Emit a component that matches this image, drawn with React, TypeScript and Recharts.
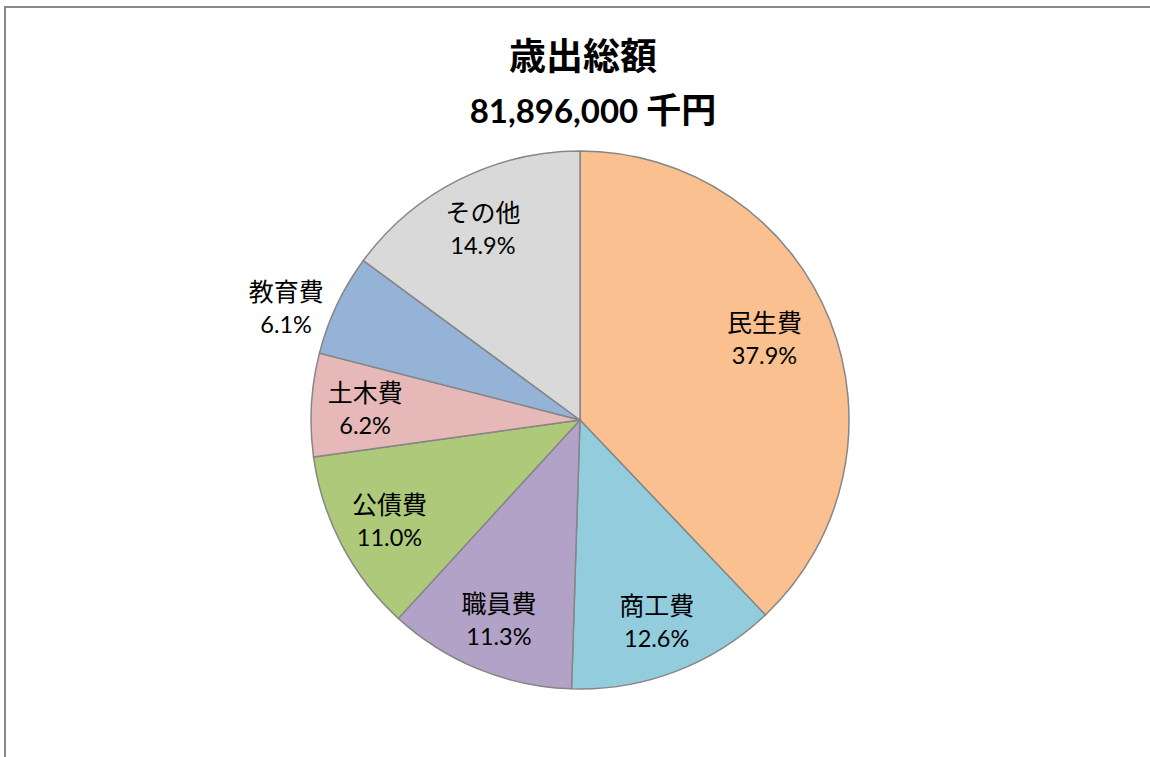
import { PieChart, Pie, Cell } from 'recharts';

// 歳出の内訳（％）
const categories = ['民生費', '商工費', '職員費', '公債費', '土木費', '教育費', 'その他'];
const shares = [37.9, 12.6, 11.3, 11.0, 6.2, 6.1, 14.9];
const titleLine1 = '歳出総額';
const totalAmount = '81,896,000';
const totalUnit = '千円';

const COLORS = ['#FAC090', '#93CDDD', '#B3A2C7', '#AFC97A', '#E6B9B8', '#95B3D7', '#D9D9D9'];

// label placement relative to outer radius (Excel "best fit" look)
const LABEL_POS: Record<string, { r: number; da: number }> = {
  '民生費': { r: 0.75, da: 2.1 },
  '教育費': { r: 1.17, da: 4.4 },
};

const JP_FONT = '"Noto Sans CJK JP", sans-serif';
const NUM_FONT = 'Lato, "Noto Sans", sans-serif';

const chartData = categories.map((name, i) => ({ name, value: shares[i] }));

const RAD = Math.PI / 180;

const renderLabel = (props: any) => {
  const { cx, cy, midAngle, outerRadius, name, value } = props;
  const pos = LABEL_POS[name] || { r: 0.8, da: 0 };
  const angle = midAngle + pos.da;
  const r = outerRadius * pos.r;
  const x = cx + r * Math.cos(-angle * RAD);
  const y = cy + r * Math.sin(-angle * RAD);
  return (
    <g>
      <text x={x} y={y - 17} textAnchor="middle" dominantBaseline="central"
        fontFamily={JP_FONT} fontSize={25} fill="#000">
        {name}
      </text>
      <text x={x} y={y + 17} textAnchor="middle" dominantBaseline="central"
        fontFamily={NUM_FONT} fontSize={23.5} fill="#000">
        {`${Number(value).toFixed(1)}%`}
      </text>
    </g>
  );
};

export default function App() {
  return (
    <div style={{ position: 'absolute', left: 0, top: 0, width: 1150, height: 757, overflow: 'hidden', background: '#fff' }}>
      <div style={{ position: 'absolute', left: 4, top: 6, width: 1170, height: 780, border: '2px solid #898989' }} />
      <div style={{ position: 'absolute', left: 0, top: 30, width: 1166, textAlign: 'center', fontFamily: JP_FONT, fontWeight: 'bold', fontSize: 37, lineHeight: '48px', color: '#000' }}>
        {titleLine1}
      </div>
      <div style={{ position: 'absolute', left: 0, top: 83, width: 1186, textAlign: 'center', fontWeight: 'bold', lineHeight: '50px', color: '#000' }}>
        <span style={{ fontFamily: NUM_FONT, fontSize: 33 }}>{totalAmount} </span>
        <span style={{ fontFamily: JP_FONT, fontSize: 35 }}>{totalUnit}</span>
      </div>
      <div style={{ position: 'absolute', left: 0, top: 0 }}>
        <PieChart width={1150} height={757} margin={{ top: 0, right: 0, bottom: 0, left: 0 }}>
          <Pie
            data={chartData}
            dataKey="value"
            nameKey="name"
            cx={580}
            cy={420}
            outerRadius={269}
            startAngle={90}
            endAngle={-270}
            stroke="#868686"
            strokeWidth={1.5}
            label={renderLabel}
            labelLine={false}
            isAnimationActive={false}
          >
            {chartData.map((entry, index) => (
              <Cell key={`cell-${index}`} fill={COLORS[index % COLORS.length]} />
            ))}
          </Pie>
        </PieChart>
      </div>
    </div>
  );
}
